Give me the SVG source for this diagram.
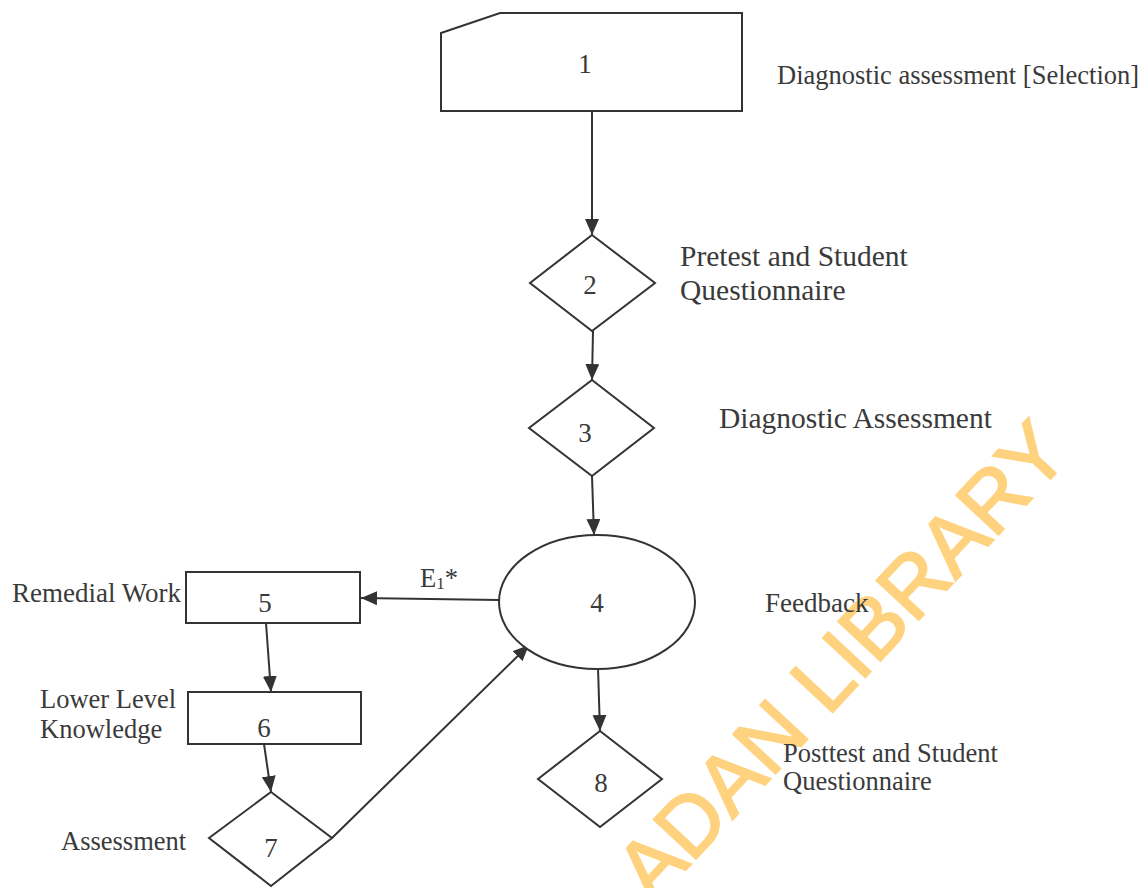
<svg xmlns="http://www.w3.org/2000/svg" width="1144" height="888" viewBox="0 0 1144 888">
<style>
.bg{fill:#ffffff}
.shape{fill:#ffffff;stroke:#333333;stroke-width:2}
.edge{fill:none;stroke:#333333;stroke-width:2}
.num{font-family:"Liberation Serif","Times New Roman",serif;font-size:27px;fill:#3a3a3a;text-anchor:middle}
.lbl{font-family:"Liberation Serif","Times New Roman",serif;font-size:26.5px;fill:#3a3a3a}
.big{font-size:29.5px}
.wm{font-family:"Liberation Sans",Arial,sans-serif;font-size:84px;fill:#FFD27F;stroke:#FFD27F;stroke-width:2}
</style>
<defs>
<marker id="arr" viewBox="0 0 16 14" markerWidth="16" markerHeight="14" refX="16" refY="7" orient="auto" markerUnits="userSpaceOnUse">
<path d="M0,0 L16,7 L0,14 z" fill="#333333"/>
</marker>
</defs>
<rect class="bg" x="0" y="0" width="1144" height="888"/>
<text class="wm" x="653" y="905" transform="rotate(-47 653 905)">ADAN LIBRARY</text>
<g id="connectors">
<line class="edge" x1="592" y1="111" x2="592" y2="235" marker-end="url(#arr)"/>
<line class="edge" x1="593" y1="331" x2="592" y2="380" marker-end="url(#arr)"/>
<line class="edge" x1="592" y1="476" x2="594" y2="535" marker-end="url(#arr)"/>
<line class="edge" x1="598" y1="668" x2="600" y2="731" marker-end="url(#arr)"/>
<line class="edge" x1="499" y1="600" x2="361" y2="598" marker-end="url(#arr)"/>
<line class="edge" x1="266" y1="623" x2="271" y2="692" marker-end="url(#arr)"/>
<line class="edge" x1="264" y1="744" x2="271" y2="792" marker-end="url(#arr)"/>
<line class="edge" x1="332" y1="838" x2="529" y2="645" marker-end="url(#arr)"/>
<text class="lbl" x="420" y="587">E<tspan font-size="17" dy="2">1</tspan><tspan dy="-2">*</tspan></text>
</g>
<g id="node1">
<polygon class="shape" points="441,33 500,13 742,13 742,111 441,111"/>
<text class="num" x="585" y="73">1</text>
<text class="lbl" x="777" y="84">Diagnostic assessment [Selection]</text>
</g>
<g id="node2">
<polygon class="shape" points="592,235 655,283 592,331 530,283"/>
<text class="num" x="590" y="294">2</text>
<text class="lbl big" x="680" y="266">Pretest and Student</text>
<text class="lbl big" x="680" y="300">Questionnaire</text>
</g>
<g id="node3">
<polygon class="shape" points="592,380 654,428 592,476 529,428"/>
<text class="num" x="585" y="442">3</text>
<text class="lbl big" x="719" y="428">Diagnostic Assessment</text>
</g>
<g id="node4">
<ellipse class="shape" cx="597" cy="602" rx="98" ry="67"/>
<text class="num" x="597" y="612">4</text>
<text class="lbl" x="765" y="612" style="font-size:27px">Feedback</text>
</g>
<g id="node5">
<rect class="shape" x="186" y="572" width="174" height="51"/>
<text class="num" x="265" y="612">5</text>
<text class="lbl" x="12" y="602" style="font-size:27px">Remedial Work</text>
</g>
<g id="node6">
<rect class="shape" x="188" y="692" width="173" height="52"/>
<text class="num" x="264" y="737">6</text>
<text class="lbl" x="40" y="708">Lower Level</text>
<text class="lbl" x="40" y="738">Knowledge</text>
</g>
<g id="node7">
<polygon class="shape" points="271,792 332,838 271,886 209,838"/>
<text class="num" x="271" y="857">7</text>
<text class="lbl" x="61" y="850">Assessment</text>
</g>
<g id="node8">
<polygon class="shape" points="600,731 662,779 600,827 538,779"/>
<text class="num" x="601" y="792">8</text>
<text class="lbl" x="783" y="762">Posttest and Student</text>
<text class="lbl" x="783" y="790">Questionnaire</text>
</g>
</svg>
